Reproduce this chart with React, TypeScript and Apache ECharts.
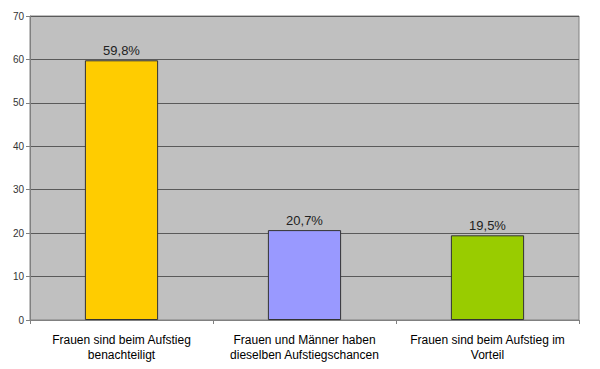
import React, { useEffect, useRef } from "react";
import * as echarts from "echarts";

const categories = [
  "Frauen sind beim Aufstieg\nbenachteiligt",
  "Frauen und Männer haben\ndieselben Aufstiegschancen",
  "Frauen sind beim Aufstieg im\nVorteil",
];
const values = [59.8, 20.7, 19.5];
const barColors = ["#FFCC00", "#9999FF", "#99CC00"];

export default function App() {
  const ref = useRef<HTMLDivElement>(null);
  useEffect(() => {
    if (!ref.current) return;
    const chart = echarts.init(ref.current, undefined, { renderer: "svg" });
    chart.setOption({
      animation: false,
      backgroundColor: "#ffffff",
      textStyle: { fontFamily: "Liberation Sans, Arial, sans-serif" },
      grid: {
        left: 30,
        right: 21,
        top: 16,
        bottom: 49,
        show: true,
        backgroundColor: "#C0C0C0",
        borderColor: "#808080",
        borderWidth: 1,
      },
      xAxis: {
        type: "category",
        data: categories,
        axisLine: { show: true, lineStyle: { color: "#808080", width: 1 } },
        axisTick: { show: true, length: 4, alignWithLabel: false, lineStyle: { color: "#808080" } },
        axisLabel: {
          color: "#000000",
          fontSize: 12,
          lineHeight: 15,
          margin: 12,
          interval: 0,
          fontFamily: "Liberation Sans, Arial, sans-serif",
        },
      },
      yAxis: {
        type: "value",
        min: 0,
        max: 70,
        interval: 10,
        axisLine: { show: true, lineStyle: { color: "#808080", width: 1 } },
        axisTick: { show: true, length: 4, lineStyle: { color: "#808080" } },
        axisLabel: {
          color: "#333333",
          fontSize: 10,
          margin: 6,
          fontFamily: "Liberation Sans, Arial, sans-serif",
        },
        splitLine: { show: true, lineStyle: { color: "#5a5a5a", width: 1 } },
      },
      series: [
        {
          type: "bar",
          barWidth: "40%",
          data: values.map((v, i) => ({
            value: v,
            itemStyle: { color: barColors[i], borderColor: "#333333", borderWidth: 1 },
          })),
          label: {
            show: true,
            position: "top",
            distance: 3,
            color: "#222222",
            fontSize: 13,
            fontFamily: "Liberation Sans, Arial, sans-serif",
            formatter: (p: any) => String(p.value).replace(".", ",") + "%",
          },
        },
      ],
    });
    return () => chart.dispose();
  }, []);
  return <div ref={ref} style={{ width: 600, height: 369, position: "absolute", left: 0, top: 0 }} />;
}
